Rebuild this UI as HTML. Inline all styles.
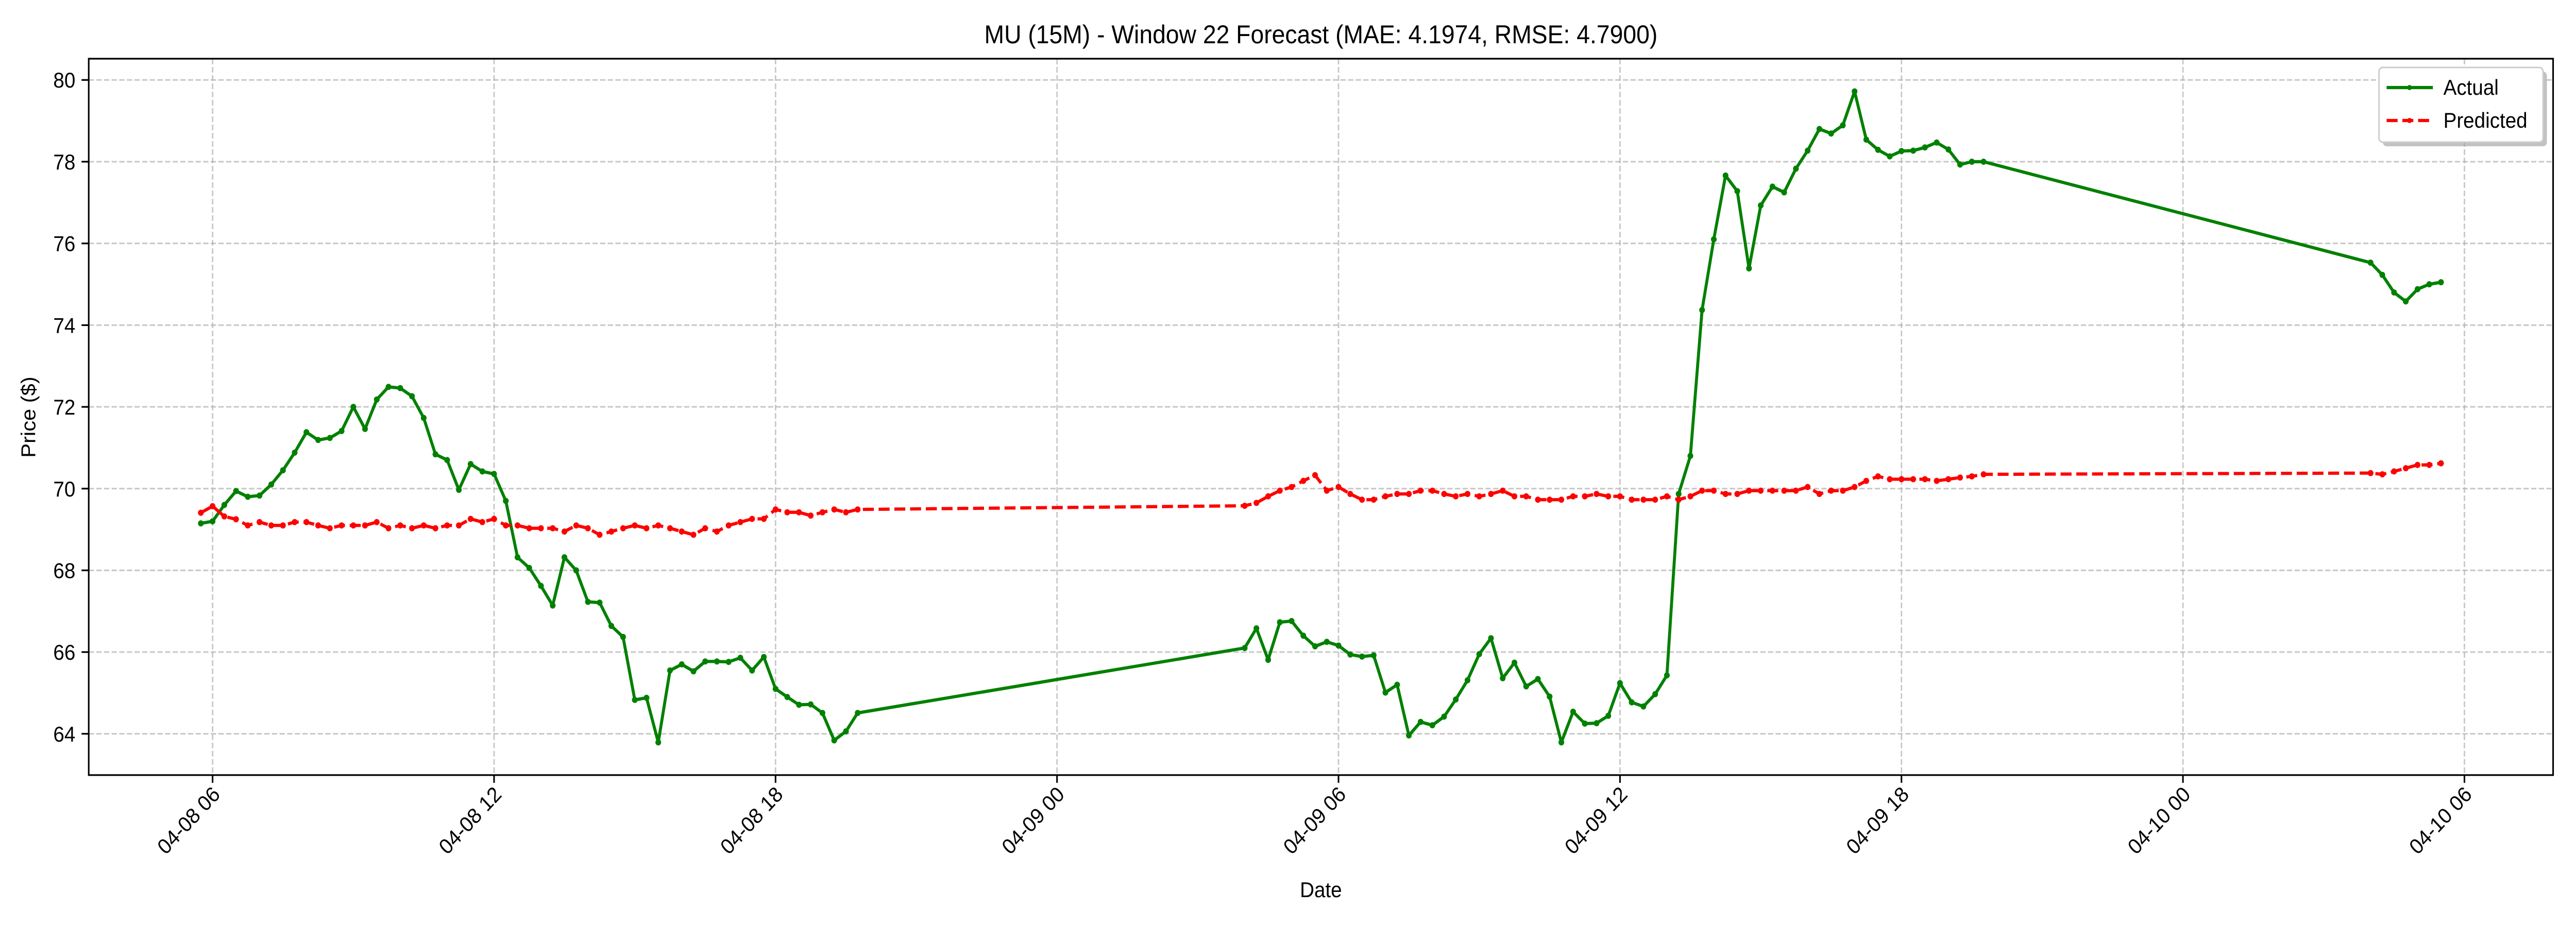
<!DOCTYPE html>
<html><head><meta charset="utf-8">
<style>
html,body{margin:0;padding:0;background:#fff;width:100%;height:100%;overflow:hidden;}
svg{display:block;position:fixed;left:0;top:0;width:100vw;height:100vh;font-family:"Liberation Sans","DejaVu Sans",sans-serif;}
</style></head>
<body>
<svg id="chart" viewBox="0 0 5400 1800" preserveAspectRatio="none" xmlns="http://www.w3.org/2000/svg">
<rect x="0" y="0" width="5400" height="1800" fill="#fff"/>
<text x="2769" y="84" font-size="50" text-anchor="middle" fill="#000">MU (15M) - Window 22 Forecast (MAE: 4.1974, RMSE: 4.7900)</text>
<g id="grid"></g>
<g id="series"></g>
<rect x="186" y="114" width="5166" height="1391" fill="none" stroke="#000" stroke-width="3.3"/>
<g id="axes"></g>
<text x="2769" y="1742" font-size="41.7" text-anchor="middle">Date</text>
<text x="0" y="0" font-size="41.7" text-anchor="middle" transform="translate(74,810) rotate(-90)">Price ($)</text>
<g>
<rect x="4995" y="139" width="344" height="145" rx="8" fill="#999" opacity="0.6"/>
<rect x="4987" y="131" width="344" height="145" rx="8" fill="#fff" stroke="#ccc" stroke-width="3"/>
<g>
<line x1="5003" y1="170" x2="5100" y2="170" stroke="#008000" stroke-width="6.25"/>
<circle cx="5051" cy="170" r="5" fill="#008000"/>
<text x="5122" y="184" font-size="41.7">Actual</text>
</g>
<g>
<line x1="5003" y1="234" x2="5100" y2="234" stroke="#ff0000" stroke-width="6.25" stroke-dasharray="23,10"/>
<circle cx="5051" cy="234" r="5" fill="#ff0000"/>
<text x="5122" y="248" font-size="41.7">Predicted</text>
</g>
</g>
</svg>
<script>
// Hours since 04-08 00:00 for each segment start, 15-minute steps
const segmentStarts = [5.75, 28, 52];
const actualSeg1 = [69.15,69.2,69.6,69.94,69.8,69.83,70.1,70.45,70.88,71.38,71.19,71.24,71.41,72.0,71.46,72.18,72.49,72.46,72.26,71.73,70.84,70.7,69.97,70.6,70.42,70.36,69.7,68.32,68.06,67.62,67.14,68.32,68.0,67.23,67.21,66.64,66.37,64.83,64.88,63.79,65.55,65.7,65.53,65.77,65.77,65.76,65.86,65.55,65.88,65.1,64.9,64.71,64.72,64.51,63.84,64.06,64.51];
const actualSeg2 = [66.10,66.58,65.81,66.73,66.76,66.40,66.14,66.25,66.16,65.94,65.89,65.92,65.01,65.20,63.96,64.29,64.21,64.42,64.84,65.31,65.95,66.34,65.36,65.74,65.16,65.34,64.91,63.79,64.54,64.25,64.26,64.44,65.24,64.77,64.67,64.97,65.43,69.87,70.80,74.37,76.10,77.66,77.28,75.39,76.93,77.39,77.25,77.83,78.27,78.80,78.69,78.89,79.72,78.54,78.29,78.13,78.26,78.27,78.35,78.47,78.30,77.93,78.00,78.00];
const actualSeg3 = [75.53,75.23,74.8,74.58,74.88,75.0,75.05];
const predSeg1 = [69.41,69.57,69.32,69.25,69.1,69.18,69.1,69.1,69.18,69.18,69.1,69.03,69.1,69.1,69.1,69.18,69.03,69.1,69.03,69.1,69.03,69.1,69.1,69.26,69.18,69.26,69.1,69.1,69.03,69.03,69.03,68.95,69.1,69.03,68.87,68.95,69.03,69.1,69.03,69.1,69.03,68.95,68.87,69.03,68.95,69.1,69.18,69.26,69.26,69.49,69.42,69.42,69.34,69.42,69.49,69.42,69.49];
const predSeg2 = [69.58,69.65,69.81,69.95,70.04,70.19,70.33,69.95,70.04,69.87,69.73,69.73,69.81,69.87,69.87,69.95,69.95,69.87,69.81,69.87,69.81,69.87,69.95,69.81,69.81,69.73,69.73,69.73,69.81,69.81,69.87,69.81,69.81,69.73,69.73,69.73,69.81,69.73,69.81,69.95,69.95,69.87,69.87,69.95,69.95,69.95,69.95,69.95,70.04,69.87,69.95,69.95,70.04,70.19,70.30,70.23,70.23,70.23,70.23,70.19,70.23,70.27,70.30,70.35];
const predSeg3 = [70.38,70.35,70.42,70.5,70.58,70.58,70.62];
const xTickHours = [6,12,18,24,30,36,42,48,54];
const xTickLabels = ["04-08 06","04-08 12","04-08 18","04-09 00","04-09 06","04-09 12","04-09 18","04-10 00","04-10 06"];
const yTicks = [64,66,68,70,72,74,76,78,80];

const NS = "http://www.w3.org/2000/svg";
const L = 186, R = 5352, T = 114, B = 1505;
const xMin = 3.36, xMax = 55.89, yMin = 62.99, yMax = 80.52;
function xs(h){ return L + (h - xMin) / (xMax - xMin) * (R - L); }
function ys(v){ return B - (v - yMin) / (yMax - yMin) * (B - T); }
function mk(tag, attrs, parent){
  const e = document.createElementNS(NS, tag);
  for (const k in attrs) e.setAttribute(k, attrs[k]);
  parent.appendChild(e); return e;
}
const grid = document.getElementById('grid');
const axes = document.getElementById('axes');
const series = document.getElementById('series');

xTickHours.forEach((h, i) => {
  const x = xs(h);
  const g = mk('line', {x1:x, y1:T, x2:x, y2:B, stroke:'#b0b0b0', 'stroke-width':3, 'stroke-dasharray':'11,5', opacity:0.7}, grid);
  
  
  const t = mk('line', {x1:x, y1:B, x2:x, y2:B+15, stroke:'#000', 'stroke-width':3.3}, axes);
  
  
  const lbl = mk('text', {x:0, y:0, 'font-size':41.7, 'text-anchor':'end', transform:'translate(' + (x + 18) + ',' + (B + 40) + ') rotate(-45)'}, axes);
  lbl.textContent = xTickLabels[i];
  
  
});
yTicks.forEach(v => {
  const y = ys(v);
  const g = mk('line', {x1:L, y1:y, x2:R, y2:y, stroke:'#b0b0b0', 'stroke-width':3, 'stroke-dasharray':'11,5', opacity:0.7}, grid);
  
  
  const t = mk('line', {x1:L-15, y1:y, x2:L, y2:y, stroke:'#000', 'stroke-width':3.3}, axes);
  
  
  const lbl = mk('text', {x:L-28, y:y+15, 'font-size':41.7, 'text-anchor':'end'}, axes);
  lbl.textContent = String(v);
  
  
});

function drawSeries(segs, color, dash, name){
  const pts = [];
  segs.forEach((vals, s) => {
    vals.forEach((v, i) => pts.push([xs(segmentStarts[s] + i * 0.25), ys(v)]));
  });
  const g = mk('g', {}, series);
  
  
  const p = mk('polyline', {points: pts.map(p => p[0].toFixed(1) + ',' + p[1].toFixed(1)).join(' '), fill:'none', stroke:color, 'stroke-width':6.25, 'stroke-linejoin':'round'}, g);
  if (dash) p.setAttribute('stroke-dasharray', dash);
  
  
  pts.forEach(pt => {
    const c = mk('circle', {cx:pt[0].toFixed(1), cy:pt[1].toFixed(1), r:6, fill:color}, g);
    
    
  });
}
drawSeries([actualSeg1, actualSeg2, actualSeg3], '#008000', null, 'actual');
drawSeries([predSeg1, predSeg2, predSeg3], '#ff0000', '23,10', 'predicted');
</script>
</body></html>
